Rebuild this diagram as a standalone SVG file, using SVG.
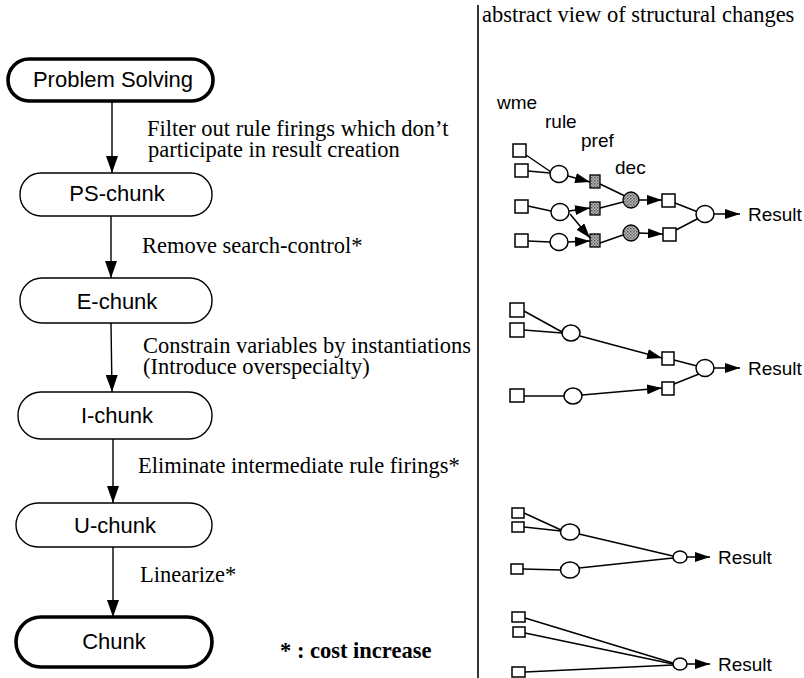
<svg xmlns="http://www.w3.org/2000/svg" width="804" height="678" viewBox="0 0 804 678">
<style>
.box{fill:#fff;stroke:#000;stroke-width:1.4}
.thick{stroke-width:3.6}
.nl{font-family:"Liberation Sans",Arial,sans-serif;font-size:22px;fill:#000;text-anchor:middle}
.ann{font-family:"Liberation Serif","Times New Roman",serif;font-size:22.5px;fill:#000}
.bold{font-weight:bold}
.gl{font-family:"Liberation Sans",Arial,sans-serif;font-size:19px;fill:#000}
.flow{stroke:#000;stroke-width:1.4;fill:none}
.e{stroke:#000;stroke-width:1.5;fill:none}
.sq{fill:#fff;stroke:#000;stroke-width:1.5}
.ci{fill:#fff;stroke:#000;stroke-width:1.5}
.sh{fill:url(#stip);stroke:#000;stroke-width:1.3}
</style>
<defs>
<pattern id="stip" width="3" height="3" patternUnits="userSpaceOnUse">
<rect width="3" height="3" fill="#bdbdbd"/>
<rect width="1.5" height="1.5" fill="#555"/>
<rect x="1.5" y="1.5" width="1.5" height="1.5" fill="#777"/>
</pattern>
<marker id="ah" viewBox="0 0 17 12" refX="17" refY="6" markerWidth="17" markerHeight="12" markerUnits="userSpaceOnUse" orient="auto">
<path d="M0,0 L17,6 L0,12 z" fill="#000"/>
</marker>
<marker id="as" viewBox="0 0 15 10" refX="15" refY="5" markerWidth="15" markerHeight="10" markerUnits="userSpaceOnUse" orient="auto">
<path d="M0,0 L15,5 L0,10 z" fill="#000"/>
</marker>
</defs>
<rect width="804" height="678" fill="#fff"/>

<!-- divider -->
<line x1="478" y1="5" x2="478" y2="678" stroke="#000" stroke-width="1.6"/>
<text class="ann" x="482" y="22" font-size="23">abstract view of structural changes</text>

<!-- left flow nodes -->
<g id="problem-solving"><rect class="box thick" x="8" y="59" width="205" height="42" rx="21"/><text class="nl" x="113" y="87">Problem Solving</text></g>
<g id="ps-chunk"><rect class="box" x="20" y="173" width="192" height="43" rx="21"/><text class="nl" x="117" y="201">PS-chunk</text></g>
<g id="e-chunk"><rect class="box" x="20" y="278" width="192" height="45" rx="22"/><text class="nl" x="117" y="309">E-chunk</text></g>
<g id="i-chunk"><rect class="box" x="18" y="392" width="194" height="47" rx="23"/><text class="nl" x="117" y="423">I-chunk</text></g>
<g id="u-chunk"><rect class="box" x="16" y="503" width="196" height="44" rx="22"/><text class="nl" x="115" y="533">U-chunk</text></g>
<g id="chunk"><rect class="box thick" x="16" y="617" width="196" height="50" rx="25"/><text class="nl" x="114" y="649">Chunk</text></g>

<g id="flow-connectors">
<line class="flow" x1="112" y1="101" x2="112" y2="173" marker-end="url(#ah)"/>
<line class="flow" x1="111" y1="216" x2="111" y2="278" marker-end="url(#ah)"/>
<line class="flow" x1="111" y1="323" x2="112" y2="392" marker-end="url(#ah)"/>
<line class="flow" x1="113" y1="439" x2="113" y2="503" marker-end="url(#ah)"/>
<line class="flow" x1="113" y1="547" x2="113" y2="617" marker-end="url(#ah)"/>
</g>

<g id="flow-labels">
<text class="ann" x="147" y="136">Filter out rule firings which don’t</text>
<text class="ann" x="148" y="157">participate in result creation</text>
<text class="ann" x="142" y="253">Remove search-control*</text>
<text class="ann" x="143" y="353">Constrain variables by instantiations</text>
<text class="ann" x="143" y="374">(Introduce overspecialty)</text>
<text class="ann" x="138" y="473">Eliminate intermediate rule firings*</text>
<text class="ann" x="140" y="582">Linearize*</text>
<text class="ann bold" x="280" y="658">* : cost increase</text>
</g>

<!-- graph 1 -->
<g id="g1-labels">
<text class="gl" x="497" y="109">wme</text>
<text class="gl" x="545" y="128">rule</text>
<text class="gl" x="581" y="147">pref</text>
<text class="gl" x="615" y="174">dec</text>
</g>
<g id="g1-connectors">
<line class="e" x1="526" y1="155" x2="551" y2="172"/>
<line class="e" x1="528" y1="171" x2="550" y2="173"/>
<line class="e" x1="568" y1="176" x2="590" y2="182" marker-end="url(#as)"/>
<line class="e" x1="528" y1="206" x2="551" y2="211"/>
<line class="e" x1="569" y1="211" x2="590" y2="208" marker-end="url(#as)"/>
<line class="e" x1="570" y1="214" x2="590" y2="238" marker-end="url(#as)"/>
<line class="e" x1="528" y1="241" x2="550" y2="242"/>
<line class="e" x1="568" y1="242" x2="590" y2="241" marker-end="url(#as)"/>
<line class="e" x1="600" y1="184" x2="625" y2="196"/>
<line class="e" x1="600" y1="208" x2="623" y2="202"/>
<line class="e" x1="600" y1="243" x2="623" y2="235"/>
<line class="e" x1="639" y1="200" x2="662" y2="200" marker-end="url(#as)"/>
<line class="e" x1="639" y1="233" x2="663" y2="234" marker-end="url(#as)"/>
<line class="e" x1="675" y1="203" x2="698" y2="212"/>
<line class="e" x1="676" y1="230" x2="699" y2="218"/>
<line class="e" x1="714" y1="214" x2="740" y2="214" marker-end="url(#as)"/>
</g>
<g id="g1-wme1"><rect class="sq" x="513" y="144" width="13" height="13"/></g>
<g id="g1-wme2"><rect class="sq" x="515" y="164" width="13" height="13"/></g>
<g id="g1-wme3"><rect class="sq" x="515" y="200" width="13" height="13"/></g>
<g id="g1-wme4"><rect class="sq" x="515" y="234" width="13" height="13"/></g>
<g id="g1-rule1"><ellipse class="ci" cx="559" cy="174" rx="9" ry="8.5"/></g>
<g id="g1-rule2"><ellipse class="ci" cx="560" cy="212" rx="9" ry="8.5"/></g>
<g id="g1-rule3"><ellipse class="ci" cx="559" cy="242" rx="9" ry="8.5"/></g>
<g id="g1-pref1"><rect class="sh" x="590" y="175" width="10" height="13"/></g>
<g id="g1-pref2"><rect class="sh" x="590" y="202" width="10" height="13"/></g>
<g id="g1-pref3"><rect class="sh" x="590" y="234" width="10" height="13"/></g>
<g id="g1-dec1"><ellipse class="sh" cx="631" cy="200" rx="8" ry="8"/></g>
<g id="g1-dec2"><ellipse class="sh" cx="631" cy="233" rx="8" ry="8"/></g>
<g id="g1-wme5"><rect class="sq" x="662" y="194" width="13" height="13"/></g>
<g id="g1-wme6"><rect class="sq" x="663" y="228" width="13" height="13"/></g>
<g id="g1-rule4"><ellipse class="ci" cx="705" cy="214" rx="9" ry="8.5"/></g>
<g id="g1-result"><text class="gl" x="748" y="221">Result</text></g>

<!-- graph 2 -->
<g id="g2-connectors">
<line class="e" x1="524" y1="311" x2="562" y2="332"/>
<line class="e" x1="524" y1="330" x2="562" y2="333"/>
<line class="e" x1="580" y1="336" x2="662" y2="358" marker-end="url(#as)"/>
<line class="e" x1="524" y1="396" x2="564" y2="396"/>
<line class="e" x1="582" y1="395" x2="662" y2="388" marker-end="url(#as)"/>
<line class="e" x1="674" y1="360" x2="697" y2="366"/>
<line class="e" x1="674" y1="384" x2="699" y2="374"/>
<line class="e" x1="714" y1="368" x2="740" y2="368" marker-end="url(#as)"/>
</g>
<g id="g2-wme1"><rect class="sq" x="510" y="303" width="14" height="14"/></g>
<g id="g2-wme2"><rect class="sq" x="510" y="323" width="14" height="14"/></g>
<g id="g2-wme3"><rect class="sq" x="510" y="389" width="14" height="13"/></g>
<g id="g2-rule1"><ellipse class="ci" cx="571" cy="333" rx="9" ry="8"/></g>
<g id="g2-rule2"><ellipse class="ci" cx="573" cy="396" rx="9" ry="8"/></g>
<g id="g2-wme4"><rect class="sq" x="662" y="352" width="12" height="13"/></g>
<g id="g2-wme5"><rect class="sq" x="662" y="382" width="12" height="13"/></g>
<g id="g2-rule3"><ellipse class="ci" cx="705" cy="368" rx="9" ry="8.5"/></g>
<g id="g2-result"><text class="gl" x="748" y="375">Result</text></g>

<!-- graph 3 -->
<g id="g3-connectors">
<line class="e" x1="524" y1="513" x2="561" y2="530"/>
<line class="e" x1="524" y1="527" x2="561" y2="531"/>
<line class="e" x1="579" y1="534" x2="673" y2="556"/>
<line class="e" x1="523" y1="569" x2="561" y2="570"/>
<line class="e" x1="579" y1="568" x2="673" y2="558"/>
<line class="e" x1="687" y1="557" x2="710" y2="557" marker-end="url(#as)"/>
</g>
<g id="g3-wme1"><rect class="sq" x="512" y="508" width="12" height="10"/></g>
<g id="g3-wme2"><rect class="sq" x="512" y="522" width="12" height="10"/></g>
<g id="g3-wme3"><rect class="sq" x="511" y="564" width="12" height="10"/></g>
<g id="g3-rule1"><ellipse class="ci" cx="570" cy="532" rx="9.5" ry="8"/></g>
<g id="g3-rule2"><ellipse class="ci" cx="570" cy="570" rx="9.5" ry="8"/></g>
<g id="g3-rule3"><ellipse class="ci" cx="680" cy="557" rx="7" ry="6"/></g>
<g id="g3-result"><text class="gl" x="718" y="564">Result</text></g>

<!-- graph 4 -->
<g id="g4-connectors">
<line class="e" x1="525" y1="618" x2="673" y2="663"/>
<line class="e" x1="525" y1="633" x2="673" y2="664"/>
<line class="e" x1="525" y1="672" x2="673" y2="665"/>
<line class="e" x1="687" y1="664" x2="710" y2="664" marker-end="url(#as)"/>
</g>
<g id="g4-wme1"><rect class="sq" x="512" y="612" width="13" height="10"/></g>
<g id="g4-wme2"><rect class="sq" x="513" y="627" width="12" height="10"/></g>
<g id="g4-wme3"><rect class="sq" x="512" y="667" width="13" height="10"/></g>
<g id="g4-rule1"><ellipse class="ci" cx="680" cy="664" rx="7" ry="6"/></g>
<g id="g4-result"><text class="gl" x="718" y="671">Result</text></g>
</svg>
